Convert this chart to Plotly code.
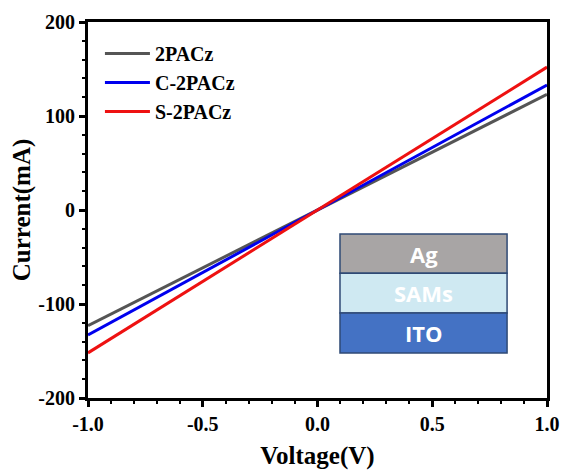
import plotly.graph_objects as go

voltage = [-1.0, -0.5, 0.0, 0.5, 1.0]
i_2pacz = [-123, -61.5, 0, 61.5, 123]
i_c2pacz = [-133, -66.5, 0, 66.5, 133]
i_s2pacz = [-152, -76, 0, 76, 152]

x_ticks = [-1.0, -0.5, 0.0, 0.5, 1.0]
x_ticklabels = ["-1.0", "-0.5", "0.0", "0.5", "1.0"]
y_ticks = [-200, -100, 0, 100, 200]
y_ticklabels = ["-200", "-100", "0", "100", "200"]

series = [("2PACz", i_2pacz, "#555555"),
          ("C-2PACz", i_c2pacz, "#0000ee"),
          ("S-2PACz", i_s2pacz, "#ee1111")]

layers = ["Ag", "SAMs", "ITO"]
layer_colors = ["#a8a5a5", "#cfe9f2", "#4472c4"]

fig = go.Figure()
for name, vals, col in series:
    fig.add_trace(go.Scatter(x=voltage, y=vals, mode="lines", name=name,
                             line=dict(color=col, width=3)))

font_fam = "Liberation Serif, Times New Roman, serif"
axis_common = dict(showline=True, linecolor="black", linewidth=3, mirror=True,
                   ticks="outside", ticklen=6, tickwidth=2.5, tickcolor="black",
                   showgrid=False, zeroline=False, automargin=False,
                   tickfont=dict(family=font_fam, size=20, color="black", weight="bold"),
                   minor=dict(ticks="outside", ticklen=3, tickwidth=2, tickcolor="black"))

fig.update_xaxes(range=[-1.0, 1.0], tickvals=x_ticks, ticktext=x_ticklabels,
                 title=dict(text="Voltage(V)", font=dict(family=font_fam, size=25, color="black", weight="bold"), standoff=14),
                 **axis_common)
fig.update_yaxes(range=[-200, 200], tickvals=y_ticks, ticktext=y_ticklabels,
                 title=dict(text="Current(mA)", font=dict(family=font_fam, size=25, color="black", weight="bold"), standoff=1),
                 **axis_common)

# inset stack
tops = [0.436, 0.332, 0.226]
bots = [0.332, 0.226, 0.120]
x0, x1 = 0.549, 0.913
for lab, col, t, b in zip(layers, layer_colors, tops, bots):
    fig.add_shape(type="rect", xref="paper", yref="paper", x0=x0, x1=x1, y0=b, y1=t,
                  fillcolor=col, line=dict(color="#2f4a75", width=1.5), layer="above")
for lab, t, b in zip(layers, tops, bots):
    fig.add_annotation(xref="paper", yref="paper", x=(x0 + x1) / 2, y=(t + b) / 2,
                       xanchor="center", yanchor="middle",
                       text=lab, showarrow=False,
                       font=dict(family="Open Sans, Noto Sans, sans-serif", size=22,
                                 color="white", weight="bold"))

fig.update_layout(
    width=561, height=470,
    margin=dict(l=88, r=14, t=22, b=72),
    plot_bgcolor="white", paper_bgcolor="white",
    legend=dict(x=0.026, y=0.968, xanchor="left", yanchor="top",
                bgcolor="rgba(0,0,0,0)", tracegroupgap=0, itemwidth=45,
                font=dict(family=font_fam, size=20, color="black", weight="bold")),
    showlegend=True,
)

fig.write_html("out.html")
